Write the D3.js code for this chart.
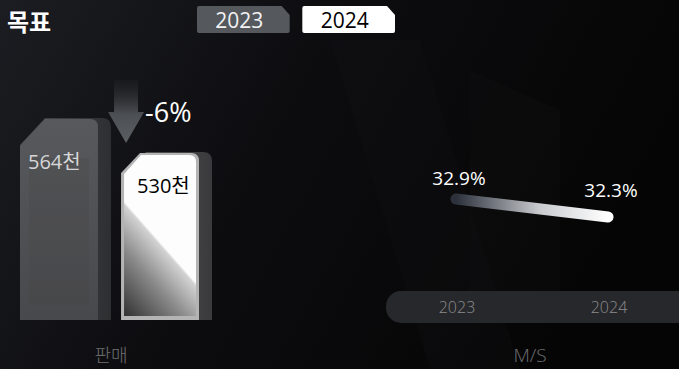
<!DOCTYPE html>
<html><head><meta charset="utf-8">
<script src="https://cdn.jsdelivr.net/npm/d3@7"></script>
<style>
html,body{margin:0;padding:0;background:#000;overflow:hidden}
svg{display:block}
</style></head>
<body>
<svg id="chart" width="679" height="369"></svg>
<script>
// ---- data ----
const years = ["2023", "2024"];
const sales = [564, 530];          // 천 (thousands)
const salesLabels = ["564천", "530천"];
const share = [32.9, 32.3];        // M/S %
const shareLabels = ["32.9%", "32.3%"];
const changeLabel = "-6%";
const title = "목표";
const salesTitle = "판매";
const shareTitle = "M/S";

const W = 679, H = 369;
const svg = d3.select("#chart");
const defs = svg.append("defs");
const FONT = "'Open Sans','Noto Sans','Noto Sans CJK KR',sans-serif";
const KFONT = "'Noto Sans CJK KR','Noto Sans',sans-serif";

// background
const bg = defs.append("linearGradient").attr("id","bg").attr("x1",0).attr("y1",0).attr("x2",1).attr("y2",0.3);
bg.append("stop").attr("offset","0%").attr("stop-color","#1c1d22");
bg.append("stop").attr("offset","45%").attr("stop-color","#0d0d10");
bg.append("stop").attr("offset","100%").attr("stop-color","#050505");
svg.append("rect").attr("width",W).attr("height",H).attr("fill","url(#bg)");
// faint watermark strokes
svg.append("path").attr("d","M330,40 L420,40 L520,369 L430,369 Z").attr("fill","#141416").attr("opacity",0.25);
svg.append("path").attr("d","M470,70 L560,110 L560,300 L470,300 Z").attr("fill","#121214").attr("opacity",0.25);

// title
svg.append("text").attr("x",7).attr("y",31).attr("fill","#fff")
  .attr("font-family",KFONT).attr("font-weight",700).attr("font-size",24).text(title);

// tabs
const tabX = d3.scaleBand().domain(years).range([197, 395]).paddingInner(0.12);
years.forEach((y,i)=>{
  const x0 = tabX(y), x1 = x0 + tabX.bandwidth(), t=6, b=33;
  const p = `M${x0+2},${t} L${x1-8},${t} L${x1},${t+9} L${x1},${b-2} Q${x1},${b} ${x1-2},${b} L${x0+2},${b} Q${x0},${b} ${x0},${b-2} L${x0},${t+2} Q${x0},${t} ${x0+2},${t} Z`;
  svg.append("path").attr("d",p).attr("fill", i===1 ? "#ffffff" : "#55585d");
  svg.append("text").attr("x",x0+tabX.bandwidth()/2-4).attr("y",28).attr("text-anchor","middle")
    .attr("font-family",FONT).attr("font-size",21).attr("fill", i===1 ? "#000" : "#f2f2f2").text(y);
});

// ---- bar chart ----
const xB = d3.scaleBand().domain(years).range([20, 212]).paddingInner(0.1);
const yB = d3.scaleLinear().domain([362, 564]).range([320, 118]);

// gradients
const gL = defs.append("linearGradient").attr("id","gL").attr("x1",0).attr("y1",0).attr("x2",0).attr("y2",1);
gL.append("stop").attr("offset","0%").attr("stop-color","#58595c");
gL.append("stop").attr("offset","100%").attr("stop-color","#48494c");
const gLs = defs.append("linearGradient").attr("id","gLs").attr("x1",0).attr("y1",0).attr("x2",1).attr("y2",0);
gLs.append("stop").attr("offset","0%").attr("stop-color","#48494c");
gLs.append("stop").attr("offset","100%").attr("stop-color","#2e2f31");
// right bar face: white upper-right, diagonal step to grey fading dark toward bottom-left
const rx0 = xB("2024");
const rb = yB(362);
const gR = defs.append("linearGradient").attr("id","gR").attr("gradientUnits","userSpaceOnUse")
  .attr("x1",rx0+3).attr("y1",rb).attr("x2",rx0+62).attr("y2",rb-52);
gR.append("stop").attr("offset","0%").attr("stop-color","#2c2c2c");
gR.append("stop").attr("offset","60%").attr("stop-color","#8a8a8a");
gR.append("stop").attr("offset","97%").attr("stop-color","#d2d2d2");
gR.append("stop").attr("offset","100%").attr("stop-color","#fdfdfd");
const gRs = defs.append("linearGradient").attr("id","gRs").attr("x1",0).attr("y1",0).attr("x2",1).attr("y2",0);
gRs.append("stop").attr("offset","0%").attr("stop-color","#5a5a5c");
gRs.append("stop").attr("offset","100%").attr("stop-color","#3a3a3c");

function barPath(x0, x1, top, bottom, ch, chy, r){
  return `M${x0},${top+chy} L${x0+ch},${top} L${x1-r},${top} Q${x1},${top} ${x1},${top+r} L${x1},${bottom} L${x0},${bottom} Z`;
}
years.forEach((y,i)=>{
  const x0 = xB(y), w = xB.bandwidth(), x1 = x0 + w;
  const top = yB(sales[i]), bottom = yB(362);
  const side = 13;
  svg.append("path").attr("d", barPath(x0, x1, top, bottom, 25, 27, 9))
    .attr("fill", i===0 ? "url(#gLs)" : "url(#gRs)");
  if(i===0){
    svg.append("path").attr("d", barPath(x0, x1-side, top+1, bottom, 25, 27, 8)).attr("fill","url(#gL)");
    svg.append("rect").attr("x",x0+9).attr("y",top+40).attr("width",w-side-18).attr("height",bottom-top-55)
      .attr("fill","#3f4043").attr("opacity",0.2);
  } else {
    svg.append("path").attr("d", barPath(x0, x1-side, top+1, bottom, 19, 20, 8)).attr("fill","#b4b4b4");
    svg.append("path").attr("d", barPath(x0+3, x1-side-3, top+3, bottom-4, 17, 19, 7)).attr("fill","url(#gR)");
  }
});
// bar labels
svg.selectAll(".blab").data(years).enter().append("text")
  .attr("x",(d,i)=> xB(d) + (i===0 ? 8 : 16))
  .attr("y",(d,i)=> yB(sales[i]) + (i===0 ? 51 : 41))
  .attr("font-family",FONT).attr("font-size",20)
  .attr("fill",(d,i)=> i===0 ? "#d6d6d8" : "#000")
  .text((d,i)=> salesLabels[i]);

// arrow
const ga = defs.append("linearGradient").attr("id","ga").attr("x1",0).attr("y1",0).attr("x2",0).attr("y2",1);
ga.append("stop").attr("offset","0%").attr("stop-color","#2a2c30").attr("stop-opacity",0.2);
ga.append("stop").attr("offset","55%").attr("stop-color","#4c4f54");
ga.append("stop").attr("offset","100%").attr("stop-color","#5b5e63");
const ax = xB("2024") + 5;
const aTop = yB(sales[0]) - 38, aNeck = yB(sales[0]) - 6, aTip = yB(sales[1]) - 9;
svg.append("path").attr("d",`M${ax-12},${aTop} L${ax+12},${aTop} L${ax+12},${aNeck} L${ax+18},${aNeck} L${ax},${aTip} L${ax-18},${aNeck} L${ax-12},${aNeck} Z`)
  .attr("fill","url(#ga)");
svg.append("text").attr("x",ax+19).attr("y",122).attr("font-family",FONT).attr("font-size",27)
  .attr("fill","#fff").text(changeLabel);

svg.append("text").attr("x",(xB("2023")+xB("2024")+xB.bandwidth())/2 - 5).attr("y",362).attr("text-anchor","middle")
  .attr("font-family",KFONT).attr("font-weight",300).attr("font-size",18).attr("fill","#6f6f72").text(salesTitle);

// ---- M/S line ----
const xL = d3.scalePoint().domain(years).range([456, 608]);
const yL = d3.scaleLinear().domain([32.3, 32.9]).range([217, 199]);

svg.append("rect").attr("x",386).attr("y",291).attr("width",310).attr("height",32).attr("rx",15)
  .attr("fill","#27282b");
svg.selectAll(".xlab").data(years).enter().append("text")
  .attr("x",d=>xL(d)+1).attr("y",313).attr("text-anchor","middle")
  .attr("font-family",FONT).attr("font-weight",300).attr("font-size",16).attr("fill","#8c8c8e").text(d=>d);

const gLine = defs.append("linearGradient").attr("id","gLine").attr("gradientUnits","userSpaceOnUse")
  .attr("x1",xL(years[0])).attr("y1",0).attr("x2",xL(years[1])).attr("y2",0);
gLine.append("stop").attr("offset","0%").attr("stop-color","#2b303a");
gLine.append("stop").attr("offset","55%").attr("stop-color","#c9cbcf");
gLine.append("stop").attr("offset","100%").attr("stop-color","#ffffff");
const line = d3.line().x((d,i)=>xL(years[i])).y(d=>yL(d));
svg.append("path").attr("d",line(share)).attr("fill","none").attr("stroke","url(#gLine)")
  .attr("stroke-width",11).attr("stroke-linecap","round");

svg.selectAll(".plab").data(share).enter().append("text")
  .attr("x",(d,i)=>xL(years[i]) + 3).attr("y",(d,i)=>yL(d) - (i===0 ? 14 : 20))
  .attr("text-anchor","middle").attr("font-family",FONT).attr("font-size",19).attr("fill","#fff")
  .text((d,i)=>shareLabels[i]);

svg.append("text").attr("x",530).attr("y",362).attr("text-anchor","middle")
  .attr("font-family",FONT).attr("font-weight",300).attr("font-size",19).attr("fill","#6f6f72").text(shareTitle);
</script>
</body></html>
